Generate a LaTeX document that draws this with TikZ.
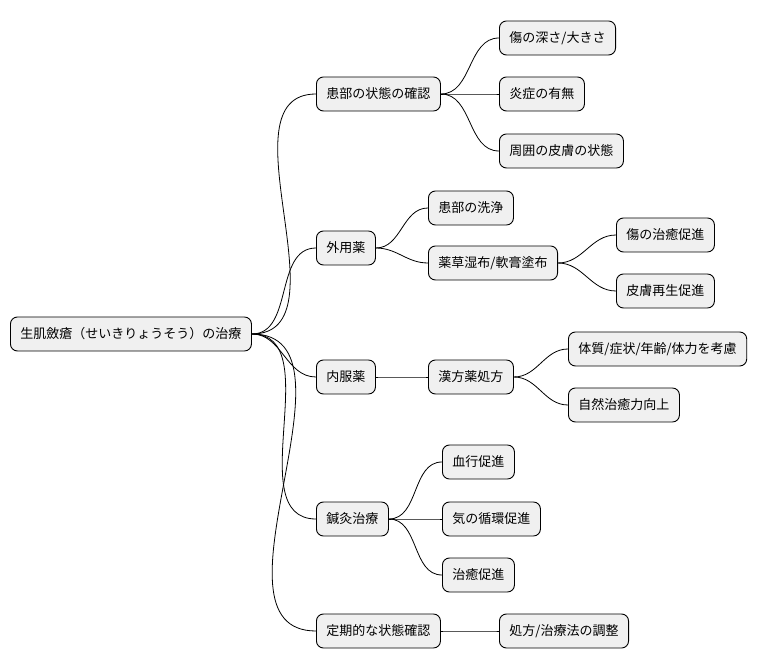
\documentclass[tikz,border=0pt]{standalone}
\usepackage{fontspec}
\setmainfont{Noto Sans CJK JP}
\begin{document}
\begin{tikzpicture}[x=1pt,y=-1pt,
  box/.style={draw=black,fill=black!6,rounded corners=7pt,line width=0.9pt,inner xsep=10pt,minimum height=34pt,anchor=west,font=\fontsize{13}{15}\selectfont},
  link/.style={draw=black,line width=0.8pt}]
\useasboundingbox (0,0) rectangle (769,668);
\node[box] (r) at (10,334) {生肌斂瘡（せいきりょうそう）の治療};
\node[box] (a) at (316,94) {患部の状態の確認};
\node[box] (b) at (316,248) {外用薬};
\node[box] (c) at (316,377) {内服薬};
\node[box] (d) at (316,519) {鍼灸治療};
\node[box] (e) at (316,631) {定期的な状態確認};
\node[box] (a1) at (499,38) {傷の深さ/大きさ};
\node[box] (a2) at (499,94) {炎症の有無};
\node[box] (a3) at (499,151) {周囲の皮膚の状態};
\node[box] (b1) at (428,208) {患部の洗浄};
\node[box] (b2) at (428,263) {薬草湿布/軟膏塗布};
\node[box] (b21) at (616,235) {傷の治癒促進};
\node[box] (b22) at (616,291) {皮膚再生促進};
\node[box] (c1) at (428,377) {漢方薬処方};
\node[box] (c11) at (568,349) {体質/症状/年齢/体力を考慮};
\node[box] (c12) at (568,405) {自然治癒力向上};
\node[box] (d1) at (442,462) {血行促進};
\node[box] (d2) at (442,519) {気の循環促進};
\node[box] (d3) at (442,575) {治癒促進};
\node[box] (e1) at (499,631) {処方/治療法の調整};
\foreach \p/\c in {r/a,r/b,r/c,r/d,r/e,a/a1,a/a2,a/a3,b/b1,b/b2,b2/b21,b2/b22,c/c1,c1/c11,c1/c12,d/d1,d/d2,d/d3,e/e1}
  \draw[link] (\p.east) to[out=0,in=180] (\c.west);
\end{tikzpicture}
\end{document}
